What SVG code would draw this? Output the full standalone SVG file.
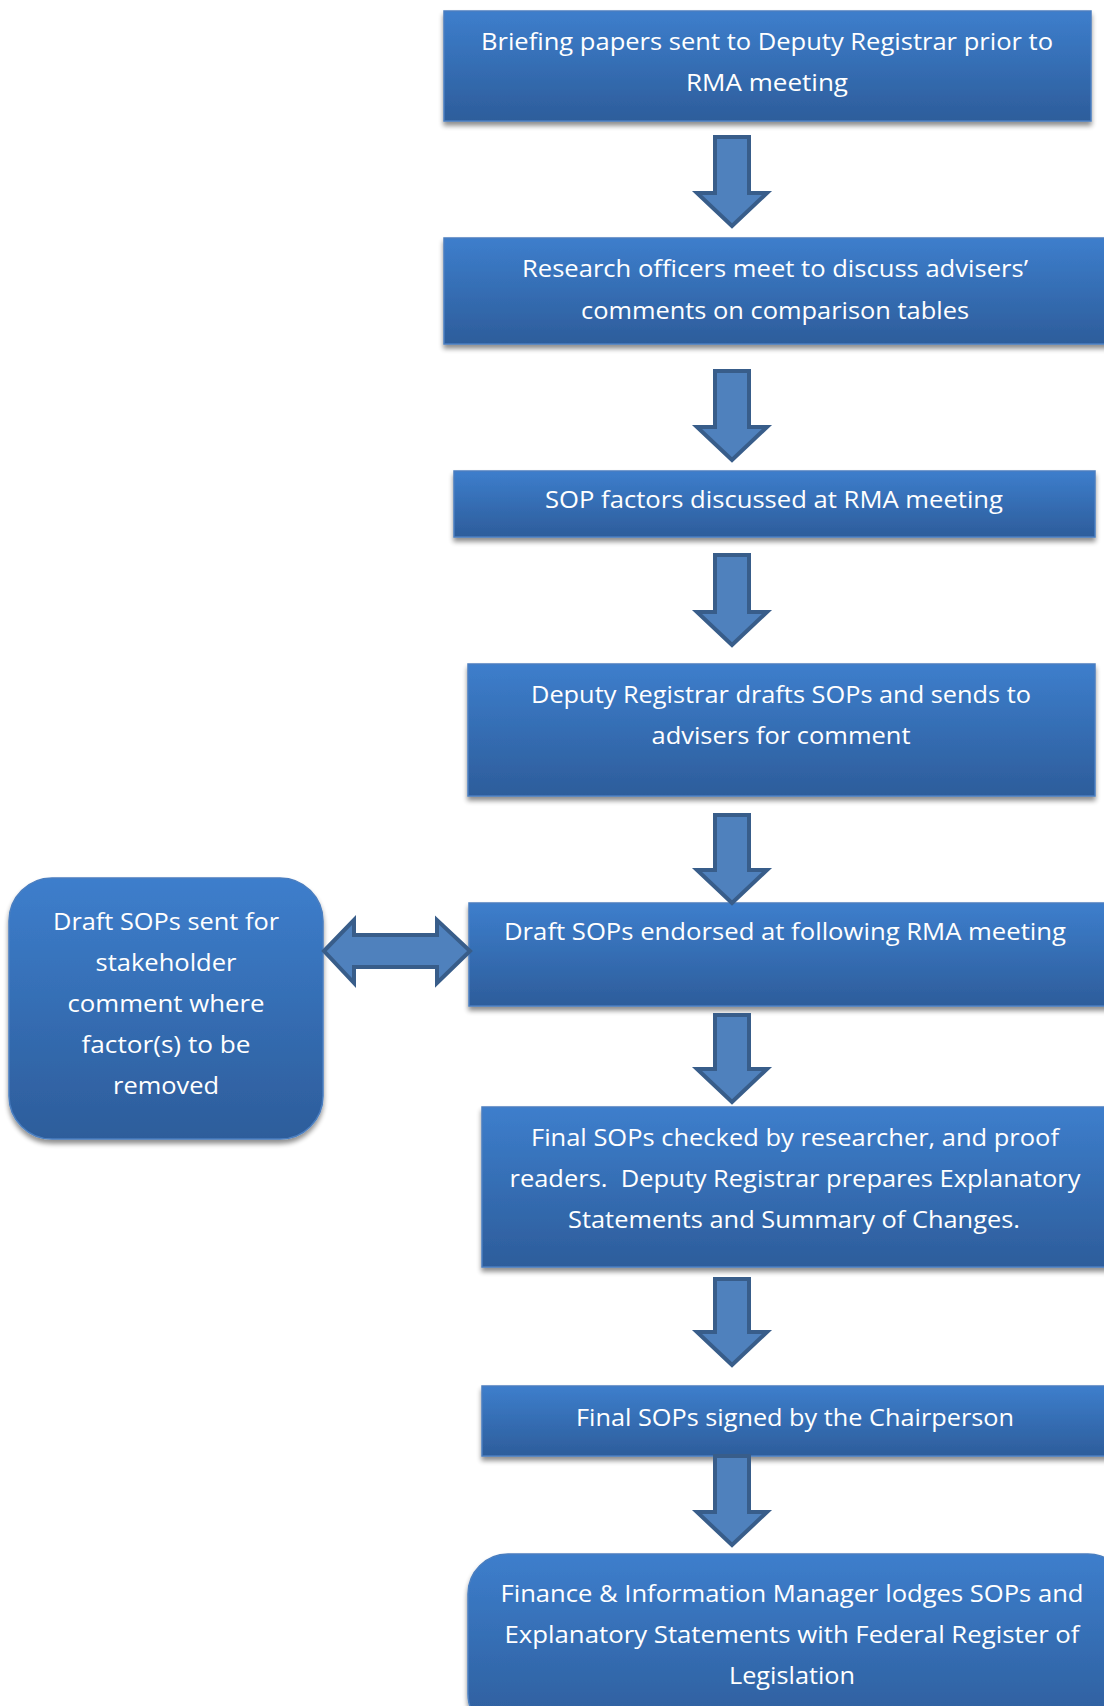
<svg xmlns="http://www.w3.org/2000/svg" width="1104" height="1706" viewBox="0 0 1104 1706">
<defs>
<linearGradient id="g" x1="0" y1="0" x2="0" y2="1">
<stop offset="0" stop-color="#3D7ECC"/>
<stop offset="1" stop-color="#2D5D9B"/>
</linearGradient>
<filter id="sh" x="-5%" y="-10%" width="110%" height="130%">
<feGaussianBlur in="SourceAlpha" stdDeviation="2.5"/>
<feOffset dx="0" dy="4" result="b"/>
<feComponentTransfer><feFuncA type="linear" slope="0.45"/></feComponentTransfer>
<feMerge><feMergeNode/><feMergeNode in="SourceGraphic"/></feMerge>
</filter>
</defs>
<style>
.box{fill:url(#g);stroke:#4A7EC0;stroke-width:1.5;filter:url(#sh)}
.t{fill:#FFFFFF;font-family:"Open Sans","Noto Sans","Liberation Sans",sans-serif;font-size:23px;text-anchor:middle;font-variant-ligatures:none}
.arr{fill:#4F81BD;stroke:#385D8A;stroke-width:4;stroke-linejoin:miter}
</style>
<rect width="1104" height="1706" fill="#FFFFFF"/>

<g id="n1">
<rect class="box" x="444" y="11" width="647" height="110"/>
<text class="t" x="767" y="50" textLength="572" lengthAdjust="spacingAndGlyphs">Briefing papers sent to Deputy Registrar prior to</text>
<text class="t" x="767" y="91" textLength="162" lengthAdjust="spacingAndGlyphs">RMA meeting</text>
</g>

<g id="n2">
<rect class="box" x="444" y="238" width="670" height="106"/>
<text class="t" x="775" y="277" textLength="506" lengthAdjust="spacingAndGlyphs">Research officers meet to discuss advisers’</text>
<text class="t" x="775" y="319" textLength="388" lengthAdjust="spacingAndGlyphs">comments on comparison tables</text>
</g>

<g id="n3">
<rect class="box" x="454" y="471" width="641" height="66"/>
<text class="t" x="774" y="508" textLength="458" lengthAdjust="spacingAndGlyphs">SOP factors discussed at RMA meeting</text>
</g>

<g id="n4">
<rect class="box" x="468" y="664" width="627" height="132"/>
<text class="t" x="781" y="703" textLength="500" lengthAdjust="spacingAndGlyphs">Deputy Registrar drafts SOPs and sends to</text>
<text class="t" x="781" y="744" textLength="259" lengthAdjust="spacingAndGlyphs">advisers for comment</text>
</g>

<g id="n5">
<rect class="box" x="469" y="903" width="645" height="103"/>
<text class="t" x="785" y="940" textLength="562" lengthAdjust="spacingAndGlyphs">Draft SOPs endorsed at following RMA meeting</text>
</g>

<g id="n6">
<rect class="box" x="9" y="878" width="314" height="261" rx="43" ry="43"/>
<text class="t" x="166" y="930" textLength="226" lengthAdjust="spacingAndGlyphs">Draft SOPs sent for</text>
<text class="t" x="166" y="971" textLength="141" lengthAdjust="spacingAndGlyphs">stakeholder</text>
<text class="t" x="166" y="1012" textLength="197" lengthAdjust="spacingAndGlyphs">comment where</text>
<text class="t" x="166" y="1053" textLength="169" lengthAdjust="spacingAndGlyphs">factor(s) to be</text>
<text class="t" x="166" y="1094" textLength="106" lengthAdjust="spacingAndGlyphs">removed</text>
</g>

<g id="n7">
<rect class="box" x="482" y="1107" width="632" height="160"/>
<text class="t" x="795" y="1146" textLength="528" lengthAdjust="spacingAndGlyphs">Final SOPs checked by researcher, and proof</text>
<text class="t" x="795" y="1187" textLength="571" lengthAdjust="spacingAndGlyphs" xml:space="preserve">readers.  Deputy Registrar prepares Explanatory</text>
<text class="t" x="794" y="1228" textLength="452" lengthAdjust="spacingAndGlyphs">Statements and Summary of Changes.</text>
</g>

<g id="n8">
<rect class="box" x="482" y="1386" width="632" height="70"/>
<text class="t" x="795" y="1426" textLength="438" lengthAdjust="spacingAndGlyphs">Final SOPs signed by the Chairperson</text>
</g>

<g id="n9">
<rect class="box" x="468" y="1554" width="660" height="180" rx="40" ry="40"/>
<text class="t" x="792" y="1602" textLength="583" lengthAdjust="spacingAndGlyphs">Finance &amp; Information Manager lodges SOPs and</text>
<text class="t" x="792" y="1643" textLength="575" lengthAdjust="spacingAndGlyphs">Explanatory Statements with Federal Register of</text>
<text class="t" x="792" y="1684" textLength="126" lengthAdjust="spacingAndGlyphs">Legislation</text>
</g>

<g id="connectors">
<path class="arr" d="M715,137 L749,137 L749,193 L767,193 L732,226 L697,193 L715,193 Z"/>
<path class="arr" d="M715,371 L749,371 L749,427 L767,427 L732,460 L697,427 L715,427 Z"/>
<path class="arr" d="M715,555 L749,555 L749,612 L767,612 L732,645 L697,612 L715,612 Z"/>
<path class="arr" d="M715,815 L749,815 L749,870 L767,870 L732,903 L697,870 L715,870 Z"/>
<path class="arr" d="M715,1015 L749,1015 L749,1069 L767,1069 L732,1102 L697,1069 L715,1069 Z"/>
<path class="arr" d="M715,1279 L749,1279 L749,1332 L767,1332 L732,1365 L697,1332 L715,1332 Z"/>
<path class="arr" d="M715,1456 L749,1456 L749,1512 L767,1512 L732,1545 L697,1512 L715,1512 Z"/>
<path class="arr" d="M324,951 L354,920 L354,935 L437,935 L437,920 L470,951 L437,983 L437,967 L354,967 L354,983 Z"/>
</g>
</svg>
